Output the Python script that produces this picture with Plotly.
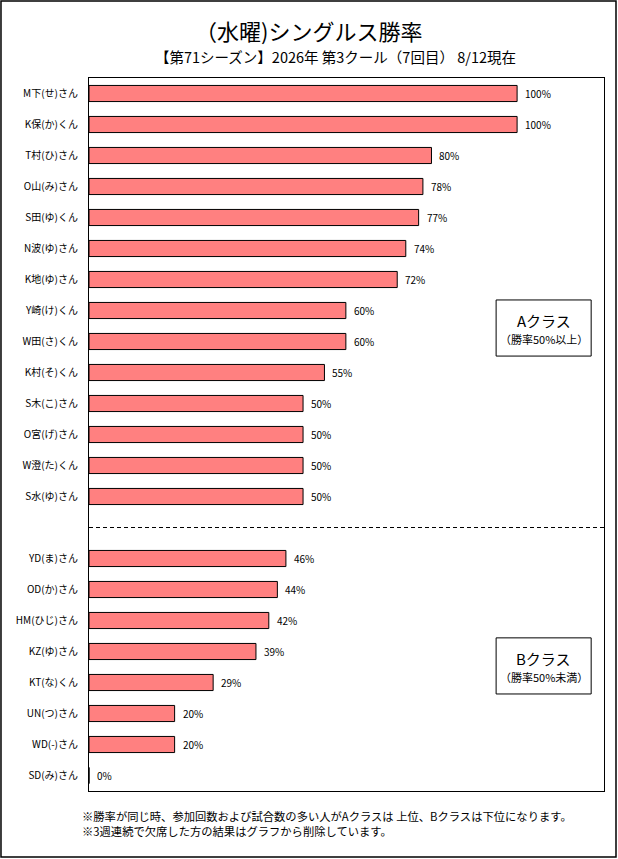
import plotly.graph_objects as go

names_a = ['M下(せ)さん', 'K保(か)くん', 'T村(ひ)さん', 'O山(み)さん', 'S田(ゆ)くん',
           'N波(ゆ)さん', 'K地(ゆ)さん', 'Y崎(け)くん', 'W田(さ)くん', 'K村(そ)くん',
           'S木(こ)さん', 'O宮(げ)さん', 'W澄(た)くん', 'S水(ゆ)さん']
rates_a = [100, 100, 80, 78, 77, 74, 72, 60, 60, 55, 50, 50, 50, 50]

names_b = ['YD(ま)さん', 'OD(か)さん', 'HM(ひじ)さん', 'KZ(ゆ)さん', 'KT(な)くん',
           'UN(つ)さん', 'WD(-)さん', 'SD(み)さん']
rates_b = [46, 44, 42, 39, 29, 20, 20, 0]

FONT = 'Noto Sans CJK JP'

# one empty slot between the A and B groups
ypos = list(range(len(names_a))) + [len(names_a) + 1 + i for i in range(len(names_b))]
names = names_a + names_b
rates = rates_a + rates_b
gap = len(names_a)

fig = go.Figure(go.Bar(
    x=rates, y=ypos, orientation='h', width=0.52,
    marker=dict(color='#FF8080', line=dict(color='black', width=1)),
    hoverinfo='skip'))

for r, y in zip(rates, ypos):
    fig.add_annotation(x=r, y=y, text=f'{r}%', showarrow=False, xanchor='left',
                       xshift=6, font=dict(size=10, color='black', family=FONT))

# divider between classes
fig.add_shape(type='line', x0=0, x1=1, xref='paper', y0=gap, y1=gap,
              line=dict(color='black', width=1, dash='4px,3px'))

# class boxes
for label, sub, y0 in [('Aクラス', '（勝率50%以上）', 6.66), ('Bクラス', '（勝率50%未満）', 17.56)]:
    fig.add_shape(type='rect', x0=95.1, x1=117.3, y0=y0, y1=y0 + 1.81,
                  line=dict(color='black', width=1), fillcolor='white')
    fig.add_annotation(x=106.2, y=y0 + 0.66, text=label, showarrow=False,
                       font=dict(size=15, color='black', family=FONT))
    fig.add_annotation(x=106.2, y=y0 + 1.25, text=sub, showarrow=False,
                       font=dict(size=11, color='black', family=FONT))

# titles
fig.add_annotation(x=0.427, y=1.067, xref='paper', yref='paper', showarrow=False,
                   xanchor='center', yanchor='middle',
                   text='（水曜)シングルス勝率', font=dict(size=22, color='black', family=FONT))
fig.add_annotation(x=0.478, y=1.0295, xref='paper', yref='paper', showarrow=False,
                   xanchor='center', yanchor='middle',
                   text='【第71シーズン】2026年 第3クール（7回目） 8/12現在',
                   font=dict(size=14.5, color='black', family=FONT))

# footnotes
fig.add_annotation(x=-0.0175, y=-0.046, xref='paper', yref='paper', showarrow=False,
                   xanchor='left', yanchor='middle', align='left',
                   text='※勝率が同じ時、参加回数および試合数の多い人がAクラスは 上位、Bクラスは下位になります。'
                        '<br>※3週連続で欠席した方の結果はグラフから削除しています。',
                   font=dict(size=11.3, color='black', family=FONT))

# outer frame
fig.add_shape(type='rect', xref='paper', yref='paper', x0=-0.1709, x1=1.0233,
              y0=-0.0926, y1=1.108, line=dict(color='black', width=1.5))

fig.update_xaxes(range=[0, 120.3], showticklabels=False, showgrid=False, zeroline=False,
                 showline=True, linecolor='black', linewidth=1, mirror=True)
fig.update_yaxes(range=[22.5, -0.5], tickvals=ypos, ticktext=names, showgrid=False,
                 zeroline=False, showline=True, linecolor='black', linewidth=1, mirror=True,
                 ticks='', ticklabelstandoff=8,
                 tickfont=dict(size=10, color='black', family=FONT))

fig.update_layout(width=618, height=859, margin=dict(l=89, r=14, t=78, b=68),
                  plot_bgcolor='white', paper_bgcolor='white', showlegend=False,
                  font=dict(family=FONT, color='black'))

fig.write_html('out.html', config={'displayModeBar': False},
               post_script="document.body.style.margin='0';")
